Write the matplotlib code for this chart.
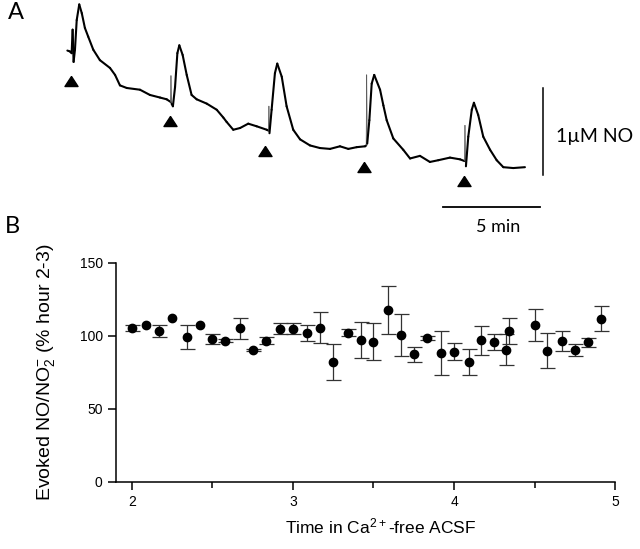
import matplotlib
matplotlib.use('Agg')
import matplotlib.pyplot as plt
from matplotlib.collections import LineCollection
import numpy as np

# ---- panel A: NO electrode trace (time in min, current in uM NO) ----
trace_t = [0.02, 0.15, 0.24, 0.29, 0.34, 0.41, 0.50, 0.63, 0.76, 0.92,
           1.09, 1.35, 1.69, 2.21, 2.47, 2.72, 3.07, 3.75, 4.26, 4.78,
           5.12, 5.32, 5.34, 5.37, 5.44, 5.55, 5.67, 5.77, 5.94, 6.15,
           6.40, 6.66, 7.18, 7.69, 8.03, 8.20, 8.54, 8.89, 9.31, 9.74,
           10.26, 10.35, 10.37, 10.40, 10.51, 10.68, 10.80, 11.03, 11.28, 11.62,
           11.97, 12.48, 12.99, 13.51, 14.02, 14.45, 14.88, 15.31, 15.37, 15.39,
           15.42, 15.53, 15.65, 15.78, 16.08, 16.25, 16.42, 16.76, 17.27, 17.62,
           18.13, 18.64, 19.07, 19.67, 20.19, 20.42, 20.44, 20.47, 20.49, 20.61,
           20.79, 20.90, 21.12, 21.38, 21.73, 22.07, 22.41, 22.92, 23.52]
trace_no = [1.43, 1.42, 1.40, 1.67, 1.30, 1.44, 1.78, 1.96, 1.86, 1.69,
            1.59, 1.44, 1.32, 1.23, 1.15, 1.03, 1.00, 0.98, 0.92, 0.89,
            0.87, 0.84, 1.14, 0.82, 0.79, 1.01, 1.40, 1.49, 1.38, 1.15,
            0.92, 0.87, 0.82, 0.75, 0.66, 0.61, 0.52, 0.54, 0.59, 0.56,
            0.52, 0.51, 0.79, 0.48, 0.75, 1.17, 1.28, 1.13, 0.79, 0.52,
            0.41, 0.34, 0.31, 0.30, 0.33, 0.30, 0.32, 0.33, 0.34, 1.15,
            0.36, 0.63, 1.05, 1.15, 0.98, 0.80, 0.63, 0.42, 0.29, 0.19,
            0.22, 0.15, 0.17, 0.20, 0.18, 0.16, 0.57, 0.11, 0.10, 0.44,
            0.75, 0.83, 0.69, 0.44, 0.29, 0.17, 0.09, 0.08, 0.09]
stim_t = [0.19, 5.29, 10.17, 15.27, 20.39]
stim_level = [1.08, 0.62, 0.28, 0.09, -0.07]

# ---- panel B: evoked NO/NO2- vs time in Ca2+-free ACSF (hours) ----
hours = [2.00, 2.09, 2.17, 2.25, 2.34, 2.42, 2.50, 2.58, 2.67, 2.75,
         2.83, 2.92, 3.00, 3.09, 3.17, 3.25, 3.34, 3.42, 3.50, 3.59,
         3.67, 3.75, 3.83, 3.92, 4.00, 4.09, 4.17, 4.25, 4.32, 4.34,
         4.50, 4.58, 4.67, 4.75, 4.83, 4.91]
evoked = [105.3, 107.1, 103.2, 112.1, 99.1, 107.1, 97.7, 96.6, 105.0, 90.2,
          96.6, 104.8, 104.8, 101.6, 105.5, 81.8, 102.1, 96.8, 95.9, 117.6,
          100.3, 87.3, 98.4, 88.4, 89.0, 82.2, 96.8, 95.5, 90.4, 103.4,
          107.3, 89.7, 96.4, 90.4, 95.5, 111.6]
sem = [2.0, np.nan, 4.0, np.nan, 8.0, np.nan, 3.7, 1.0, 7.4, 1.0,
       2.4, 3.8, 3.8, 5.5, 10.4, 12.4, 2.3, 12.3, 12.5, 16.4,
       14.5, 5.0, 1.4, 15.0, 5.7, 9.0, 10.0, 5.5, 10.5, 9.0,
       11.0, 12.0, 7.0, 4.0, 3.0, 8.5]

plt.rcParams['font.family'] = ['Liberation Sans', 'DejaVu Sans']
plt.rcParams['mathtext.default'] = 'regular'

fig = plt.figure(figsize=(6.4, 5.49), dpi=100)

# panel A
axA = fig.add_axes([0, 0.5628, 1, 0.4372])
axA.set_xlim(-3.44, 29.43)
axA.set_ylim(-0.747, 2.011)
axA.axis('off')
pts = np.column_stack([trace_t, trace_no])
segs = np.stack([pts[:-1], pts[1:]], axis=1)
dt = np.diff(trace_t)
widths = np.where(dt < 0.04, 0.6, 1.5)   # stimulus artefacts are thin
colors = ['#555555' if d < 0.04 else 'black' for d in dt]
axA.add_collection(LineCollection(segs, linewidths=widths, colors=colors,
                                  capstyle='round', joinstyle='round'))
tri = [(0, 1), (-1.3, -1), (1.3, -1), (0, 1)]
axA.plot(stim_t, stim_level, ls='none', marker=tri, ms=9.4, color='black')
# scale bars
axA.plot([24.47, 24.47], [0, 1], color='black', lw=1.1)
axA.plot([19.30, 24.30], [-0.364, -0.364], color='black', lw=1.3)
axA.text(25.1, 0.44, '1\u00b5M NO', fontsize=14, family='Lato', va='center', ha='left')
axA.text(22.15, -0.60, '5 min', fontsize=13, family='Lato', va='center', ha='center')
fig.text(0.025, 0.978, 'A', fontsize=17, family='Lato', va='center', ha='center')
fig.text(0.020, 0.588, 'B', fontsize=17, family='Lato', va='center', ha='center')

# panel B
ax = fig.add_axes([0.181, 0.1226, 0.780, 0.399])
sem = np.array(sem)
has = ~np.isnan(sem)
hx = np.array(hours)
hy = np.array(evoked)
ax.errorbar(hx[has], hy[has], yerr=sem[has], fmt='none', ecolor='#333333',
            elinewidth=0.9, capsize=5.4, capthick=0.9)
ax.plot(hours, evoked, 'o', color='black', ms=6)
ax.set_xlim(1.9, 5.0)
ax.set_ylim(0, 150)
ax.set_xticks([2, 3, 4, 5])
ax.set_xticks([2.5, 3.5, 4.5], minor=True)
ax.set_yticks([0, 50, 100, 150])
for s in ['top', 'right']:
    ax.spines[s].set_visible(False)
for s in ['left', 'bottom']:
    ax.spines[s].set_linewidth(1.1)
ax.tick_params(which='major', length=6, width=1.1, labelsize=10, direction='out')
ax.tick_params(which='minor', length=4, width=1.1)
ax.set_xlabel('Time in Ca$^{2+}$-free ACSF', fontsize=12.5)
ax.xaxis.set_label_coords(0.531, -0.161)
ax.set_ylabel('Evoked NO/NO$_2^{-}$ (% hour 2-3)', fontsize=14)
ax.yaxis.set_label_coords(-0.118, 0.5)

fig.savefig('out.png', dpi=100)
